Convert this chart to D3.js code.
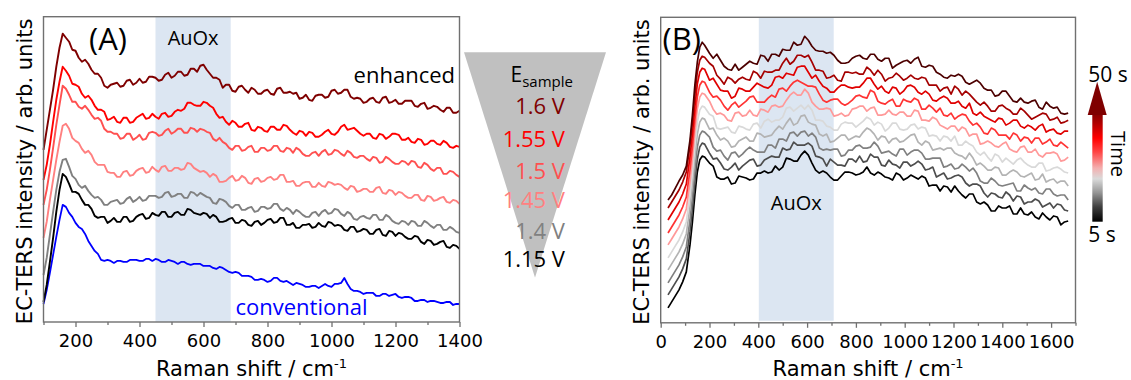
<!DOCTYPE html>
<html>
<head>
<meta charset="utf-8">
<script src="https://cdn.jsdelivr.net/npm/d3@7"></script>
<style>
  html, body { margin: 0; padding: 0; background: #ffffff; }
  svg { display: block; }
</style>
</head>
<body>
<svg id="fig" width="1131" height="380"></svg>
<script>
// ---------------- Panel A: potential-dependent spectra ----------------
const shiftA = [100,110,120,130,140,150,160,170,180,190,200,210,220,230,240,250,260,270,280,290,300,310,320,330,340,350,360,370,380,390,400,410,420,430,440,450,460,470,480,490,500,510,520,530,540,550,560,570,580,590,600,610,620,630,640,650,660,670,680,690,700,710,720,730,740,750,760,770,780,790,800,810,820,830,840,850,860,870,880,890,900,910,920,930,940,950,960,970,980,990,1000,1010,1020,1030,1040,1050,1060,1070,1080,1090,1100,1110,1120,1130,1140,1150,1160,1170,1180,1190,1200,1210,1220,1230,1240,1250,1260,1270,1280,1290,1300,1310,1320,1330,1340,1350,1360,1370,1380,1390,1400];

const potentials = ["1.6 V", "1.55 V", "1.5 V", "1.45 V", "1.4 V", "1.15 V"];
const potentialColors = ["#7f0000", "#ff0000", "#ff5050", "#ff8080", "#808080", "#000000"];

const int160 = [172,192,212,232,255,274,288,284,280,272,
  271,264,260,262,258,252,248,248,244,236,234,237,238,239,235,236,241,242,237,239,243,239,240,245,245,244,241,242,247,249,244,246,250,250,246,247,253,253,250,256,257,252,248,244,244,242,234,237,237,231,230,235,236,232,229,234,232,228,228,231,232,228,227,233,234,229,229,230,228,229,223,224,227,222,221,226,227,227,224,225,231,232,228,229,232,232,225,223,224,223,219,220,223,224,220,219,224,225,219,220,222,218,218,221,221,221,216,215,218,219,213,214,216,215,212,210,214,214,209,209,211];
const int155 = [142,157,177,200,222,240,255,251,246,238,
  237,235,228,224,226,222,216,212,212,210,202,203,205,200,199,204,204,199,200,204,206,208,203,204,208,205,203,208,209,205,206,210,212,211,213,219,219,217,216,216,220,219,216,214,208,204,205,200,197,201,199,195,195,198,199,192,191,195,194,191,190,195,195,192,192,197,196,192,189,187,191,190,186,190,189,185,185,187,190,192,188,187,190,195,197,192,193,194,191,188,186,188,188,184,183,188,187,183,185,188,188,187,182,182,184,180,179,183,182,177,178,181,181,178,177,181,179,175,174,176,175];
const int150 = [117,132,152,174,197,217,236,233,227,220,
  220,215,213,216,212,207,203,204,201,193,190,190,188,188,183,184,188,188,182,184,187,182,183,189,190,189,186,187,191,193,188,190,193,193,189,189,194,193,190,193,192,190,189,183,181,184,180,178,174,172,176,176,171,172,175,176,170,170,174,174,171,172,176,176,171,170,174,173,169,174,172,168,166,166,169,170,166,170,172,167,168,172,171,168,166,171,169,165,164,166,166,163,161,165,164,159,160,165,163,160,158,158,161,160,157,161,160,155,154,159,157,153,151,154,154,148,148,151,150,147,145];
const int145 = [84,100,122,142,162,180,196,198,193,184,
  181,179,173,169,171,167,160,157,157,157,150,149,149,145,145,150,151,146,147,151,153,154,149,150,155,152,150,155,156,151,151,154,154,152,153,159,158,154,152,150,151,149,145,148,146,140,140,141,144,146,141,142,146,144,139,138,143,144,140,141,144,145,142,143,147,147,140,140,141,136,136,139,140,140,135,135,139,136,135,140,139,137,138,137,134,132,136,135,130,131,133,133,130,130,134,135,129,128,132,131,127,130,129,126,124,124,127,127,122,121,126,125,121,122,124,125,120,119,122,121,118];
const int140 = [47,64,87,110,132,150,162,163,155,146,
  143,137,134,136,131,127,124,125,122,117,117,120,121,122,118,119,123,125,120,122,125,121,122,126,126,126,124,125,129,130,125,126,128,128,124,124,130,129,126,129,127,125,124,119,118,123,122,120,116,114,117,117,112,112,114,115,110,111,115,115,113,114,118,118,113,111,114,112,108,112,110,107,105,105,109,110,106,110,112,108,109,113,112,108,106,110,108,103,102,105,106,104,103,107,107,102,102,107,105,101,99,98,101,100,97,101,100,96,96,101,99,96,94,97,97,92,92,95,93,90,89];
const int115 = [20,37,60,84,110,132,148,145,138,130,
  130,128,122,117,117,113,106,104,105,105,99,101,104,100,100,105,105,100,101,105,107,108,103,104,109,107,106,110,110,105,105,109,110,107,107,113,112,109,108,107,109,108,104,107,105,100,100,101,103,104,99,99,102,101,97,96,100,101,97,99,102,103,99,100,104,104,97,97,99,94,94,97,97,98,94,95,99,96,95,100,99,96,97,96,92,91,95,95,90,91,93,92,88,88,92,93,87,86,91,90,86,89,88,85,83,83,86,85,80,78,82,81,77,78,80,81,75,74,77,76,73];
const intConventional = [18,32,49,67,85,102,117,115,109,105,
  99,95,93,88,81,76,71,68,62,61,62,61,59,61,61,60,60,62,62,62,61,61,63,63,61,63,62,60,60,62,61,60,58,60,60,58,57,58,58,58,56,56,56,54,53,55,54,52,50,49,50,49,46,46,46,45,42,42,43,42,40,41,44,44,41,40,41,39,37,39,38,37,35,35,36,36,34,36,38,36,35,38,38,39,44,38,33,31,31,30,28,29,29,29,26,26,28,28,26,27,28,25,24,25,25,24,21,21,22,22,20,21,21,20,19,19,20,20,17,18,18];

const seriesA = [int160, int155, int150, int145, int140, int115];

const ticksA = [200,400,600,800,1000,1200,1400];
const minorTicksA = [100,300,500,700,900,1100,1300];
const bandA = [450, 685];

// ---------------- Panel B: time-dependent spectra ----------------
const shiftB = [30,45,60,75,90,105,120,130,140,150,160,170,180,
  200,215,230,245,260,275,290,305,320,335,350,365,380,395,410,425,440,455,470,485,500,515,530,545,560,575,590,605,620,635,650,665,680,695,710,725,740,755,770,785,800,815,830,845,860,875,890,905,920,935,950,965,980,995,1010,1025,1040,1055,1070,1085,1100,1115,1130,1145,1160,1175,1190,1205,1220,1235,1250,1265,1280,1295,1310,1325,1340,1355,1370,1385,1400,1415,1430,1445,1460,1475,1490,1505,1520,1535,1550,1565,1580,1595,1610,1625,1640,1655,1670];

const times = [5,10,15,20,25,30,35,40,45,50];
const timeColors = ["#000000","#4d4d4d","#808080","#b3b3b3","#d9d9d9","#ff9999","#ff3333","#e00000","#a50000","#4d0000"];

const t05 = [15,21,27,33,41,51,78,101,128,151,163,167,166,
  160,157,146,144,144,146,139,140,147,146,145,143,144,150,150,152,150,151,157,153,156,165,164,162,162,168,172,168,160,153,150,152,150,146,143,143,147,151,151,150,148,149,151,156,150,148,151,149,146,145,143,150,148,143,145,148,146,144,147,145,137,138,138,132,137,136,131,137,132,128,125,129,129,121,119,121,118,112,112,117,115,115,117,109,109,115,109,108,111,106,104,110,106,103,107,106,98,101,102];
const t10 = [28,34,40,46,54,64,91,114,141,164,176,180,179,
  170,164,165,160,154,153,156,160,153,157,160,163,164,157,158,163,165,167,166,166,175,173,174,181,178,178,178,180,177,167,166,164,157,164,161,158,158,157,164,164,161,167,161,162,169,166,166,158,157,163,159,158,155,161,161,157,159,162,159,153,154,156,146,148,150,144,145,147,148,146,140,137,139,139,137,130,126,130,129,126,125,131,128,122,127,126,119,121,121,124,122,116,118,120,115,119,118,113,112];
const t15 = [40,46,52,58,66,76,103,126,153,176,188,192,191,
  186,176,172,173,167,163,170,171,166,169,173,176,173,171,171,171,178,178,175,184,184,182,190,191,187,191,192,187,190,186,175,173,174,173,174,174,167,168,173,173,177,178,175,175,176,181,177,170,171,172,169,167,174,174,168,171,173,173,170,164,164,165,165,165,156,157,159,154,155,159,156,152,155,150,142,140,140,145,142,138,137,138,139,140,132,132,138,135,133,135,130,129,134,134,129,127,128,128,123];
const t20 = [53,59,65,71,79,89,116,139,166,189,201,205,204,
  194,195,188,183,185,182,176,177,182,184,186,182,182,190,189,186,187,188,193,197,194,200,205,198,200,207,208,201,199,198,189,187,189,181,182,185,188,188,183,185,187,186,191,195,193,189,183,187,186,180,184,185,181,182,185,188,189,181,178,182,180,173,174,175,173,175,175,170,168,167,164,170,165,158,160,157,153,153,156,155,148,148,151,153,151,147,146,148,150,143,144,149,141,143,144,140,142,142,137];
const t25 = [65,71,77,83,91,101,128,151,178,201,213,217,216,
  209,207,195,194,195,196,191,190,197,196,194,193,199,200,195,202,204,201,203,203,206,215,216,212,215,218,214,218,213,203,203,202,197,196,193,193,199,201,200,200,196,199,202,206,204,198,201,199,192,195,200,200,194,193,194,198,199,194,196,195,187,188,187,182,187,186,182,187,178,178,182,179,177,171,168,171,166,162,169,167,161,165,162,159,163,165,161,158,156,156,160,160,152,153,155,156,154,151,150];
const t30 = [78,84,90,96,104,114,141,164,191,214,226,230,229,
  222,214,209,210,208,203,202,210,211,207,208,213,208,207,214,213,211,217,218,216,217,223,228,231,228,228,234,230,221,217,214,214,215,214,207,208,210,207,208,214,215,217,217,212,215,216,208,208,209,213,209,208,211,211,207,207,213,212,203,203,202,206,204,198,196,194,197,197,192,196,194,187,189,189,179,180,182,180,177,176,179,181,174,172,171,176,177,171,171,174,168,166,170,170,171,169,162,163,166];
const t35 = [90,96,102,108,116,126,153,176,203,226,238,242,241,
  231,226,227,223,217,213,218,221,216,219,222,226,227,221,221,221,225,228,226,234,235,232,237,241,243,241,239,237,237,236,229,223,221,223,224,224,220,218,220,223,227,228,226,225,233,231,222,220,219,222,224,217,217,224,222,221,225,223,214,214,218,215,211,215,208,207,210,204,207,209,208,202,198,200,196,190,189,195,193,188,188,188,184,190,188,182,186,185,180,185,185,179,181,184,178,177,181,178,175];
const t40 = [103,109,115,121,129,139,166,189,216,239,251,255,254,
  243,245,239,233,232,232,225,227,235,234,232,232,236,240,238,236,235,238,246,247,245,250,249,248,256,257,257,251,245,248,242,237,235,231,231,235,238,238,236,235,236,236,240,245,245,239,234,237,232,230,236,235,229,232,237,238,236,231,229,232,229,223,222,225,227,225,220,220,222,217,215,220,210,208,211,207,205,203,201,205,204,198,200,203,203,197,195,198,196,193,197,199,191,193,194,190,189,192,192];
const t45 = [115,121,127,133,141,151,178,201,228,251,263,267,266,
  260,257,248,244,239,246,244,240,244,246,244,243,252,250,245,252,251,251,253,253,260,265,259,262,268,268,266,268,261,253,253,252,245,246,248,243,242,251,251,250,251,249,249,256,253,248,253,249,242,245,246,250,247,243,245,248,245,244,246,245,238,238,238,232,235,236,229,237,234,228,232,229,225,221,218,221,217,212,212,217,218,215,213,209,209,215,212,208,204,206,208,210,209,203,204,206,200,201,203];
const t50 = [123,128,135,142,148,157,183,208,238,261,276,281,278,
  270,265,269,263,257,254,253,259,253,256,259,262,260,259,268,267,262,269,269,267,274,273,273,281,278,279,287,283,277,273,272,272,270,271,268,263,260,260,261,265,267,268,265,264,269,269,264,262,265,265,255,258,260,262,263,260,264,266,257,256,258,257,251,249,246,245,248,247,249,247,241,239,241,243,240,235,233,233,227,228,232,232,227,222,221,225,221,220,222,223,216,214,221,217,215,216,210,209,210];

const seriesB = [t05, t10, t15, t20, t25, t30, t35, t40, t45, t50];

const ticksB = [0,200,400,600,800,1000,1200,1400,1600];
const minorTicksB = [100,300,500,700,900,1100,1300,1500,1700];
const bandB = [402, 709];

// ---------------- Drawing ----------------
const FONT_AX = "'DejaVu Sans', 'Liberation Sans', sans-serif";
const FONT_NOTE = "'Open Sans', 'Noto Sans', sans-serif";
const FRAME = "#707070";
const BAND = "#dce6f2";

const svg = d3.select("#fig");

const boxA = {x0: 43.5, x1: 459.5, y0: 16.7, y1: 322};
const boxB = {x0: 660.7, x1: 1075.5, y0: 17.3, y1: 322.8};

const xA = d3.scaleLinear().domain([100, 1400]).range([boxA.x0, boxA.x1]);
const yA = d3.scaleLinear().domain([0, 305]).range([boxA.y1, boxA.y0]);
const xB = d3.scaleLinear().domain([0, 1700]).range([boxB.x0, boxB.x1]);
const yB = d3.scaleLinear().domain([0, 306]).range([boxB.y1, boxB.y0]);

function drawAxes(box, x, major, minor) {
  const gMinor = svg.append("g")
    .attr("transform", `translate(0,${box.y1})`)
    .call(d3.axisBottom(x).tickValues(minor).tickSize(3).tickFormat(""));
  const gMajor = svg.append("g")
    .attr("transform", `translate(0,${box.y1})`)
    .call(d3.axisBottom(x).tickValues(major).tickSize(5).tickPadding(7).tickFormat(d3.format("d")));
  [gMinor, gMajor].forEach(g => {
    g.select(".domain").remove();
    g.selectAll(".tick line").attr("stroke", FRAME).attr("stroke-width", 1.3);
    g.selectAll(".tick text")
      .attr("fill", "#000")
      .style("font-family", FONT_AX)
      .style("font-size", "18px");
  });
  svg.append("rect")
    .attr("x", box.x0).attr("y", box.y0)
    .attr("width", box.x1 - box.x0).attr("height", box.y1 - box.y0)
    .attr("fill", "none").attr("stroke", FRAME).attr("stroke-width", 1.4);
}

function axisTitles(box) {
  const cx = (box.x0 + box.x1) / 2;
  const t = svg.append("text")
    .attr("x", cx).attr("y", 376)
    .attr("text-anchor", "middle")
    .style("font-family", FONT_AX).style("font-size", "21px").attr("fill", "#000");
  t.append("tspan").text("Raman shift / cm");
  t.append("tspan").text("-1").attr("dy", -8).style("font-size", "13px");

  svg.append("text")
    .attr("transform", `translate(${box.x0 - 12},${(box.y0 + box.y1) / 2 + 2}) rotate(-90)`)
    .attr("text-anchor", "middle")
    .style("font-family", FONT_AX).style("font-size", "21px").attr("fill", "#000")
    .text("EC-TERS intensity / arb. units");
}

// --- Panel A ---
svg.append("rect")
  .attr("x", xA(bandA[0])).attr("y", boxA.y0)
  .attr("width", xA(bandA[1]) - xA(bandA[0])).attr("height", boxA.y1 - boxA.y0)
  .attr("fill", BAND);

const lineA = d3.line().x(d => xA(d[0])).y(d => yA(d[1]));

svg.append("path")
  .attr("d", lineA(shiftA.map((s, i) => [s, intConventional[i]])))
  .attr("fill", "none").attr("stroke", "#0000ff").attr("stroke-width", 1.8)
  .attr("stroke-linejoin", "round");

seriesA.slice().reverse().forEach((ser, j) => {
  const k = seriesA.length - 1 - j;
  svg.append("path")
    .attr("d", lineA(shiftA.map((s, i) => [s, ser[i]])))
    .attr("fill", "none").attr("stroke", potentialColors[k]).attr("stroke-width", 1.9)
    .attr("stroke-linejoin", "round");
});

drawAxes(boxA, xA, ticksA, minorTicksA);
axisTitles(boxA);

svg.append("text").attr("x", 89).attr("y", 49.5)
  .style("font-family", FONT_NOTE).style("font-size", "31px").attr("fill", "#000").text("(A)");
svg.append("text").attr("x", xA((bandA[0] + bandA[1]) / 2)).attr("y", 45)
  .attr("text-anchor", "middle")
  .style("font-family", FONT_NOTE).style("font-size", "20px").attr("fill", "#000").text("AuOx");
svg.append("text").attr("x", 455).attr("y", 82.5)
  .attr("text-anchor", "end")
  .style("font-family", FONT_NOTE).style("font-size", "22px").attr("fill", "#000").text("enhanced");
svg.append("text").attr("x", 301.5).attr("y", 315)
  .attr("text-anchor", "middle")
  .style("font-family", FONT_NOTE).style("font-size", "22px").attr("fill", "#0000ff").text("conventional");

// potential legend on a grey funnel
svg.append("polygon")
  .attr("points", [[464, 52.3], [606, 52.3], [535, 277.5]].map(p => p.join(",")).join(" "))
  .attr("fill", "#c0c0c0");
const eLab = svg.append("text").attr("x", 510.5).attr("y", 82.3)
  .style("font-family", FONT_NOTE).style("font-size", "21px").attr("fill", "#000");
eLab.append("tspan").text("E");
eLab.append("tspan").text("sample").attr("dy", 5).style("font-size", "15px");

const legendY = [105, 138, 170, 199, 230, 258];
potentials.forEach((p, i) => {
  svg.append("text")
    .attr("x", 565).attr("y", legendY[i])
    .attr("text-anchor", "end").attr("dominant-baseline", "central")
    .style("font-family", FONT_NOTE).style("font-size", "22px")
    .attr("fill", potentialColors[i]).text(p);
});

// --- Panel B ---
svg.append("rect")
  .attr("x", xB(bandB[0])).attr("y", boxB.y0)
  .attr("width", xB(bandB[1]) - xB(bandB[0])).attr("height", boxB.y1 - boxB.y0 - 2)
  .attr("fill", BAND);

const lineB = d3.line().x(d => xB(d[0])).y(d => yB(d[1]));
seriesB.forEach((ser, k) => {
  svg.append("path")
    .attr("d", lineB(shiftB.map((s, i) => [s, ser[i]])))
    .attr("fill", "none").attr("stroke", timeColors[k]).attr("stroke-width", 1.7)
    .attr("stroke-linejoin", "round");
});

drawAxes(boxB, xB, ticksB, minorTicksB);
axisTitles(boxB);

svg.append("text").attr("x", 662.5).attr("y", 49.5)
  .style("font-family", FONT_NOTE).style("font-size", "31px").attr("fill", "#000").text("(B)");
svg.append("text").attr("x", xB((bandB[0] + bandB[1]) / 2)).attr("y", 210)
  .attr("text-anchor", "middle")
  .style("font-family", FONT_NOTE).style("font-size", "20px").attr("fill", "#000").text("AuOx");

// time colour bar with arrow head
const defs = svg.append("defs");
const grad = defs.append("linearGradient").attr("id", "timeGrad")
  .attr("x1", 0).attr("y1", 1).attr("x2", 0).attr("y2", 0);
const gradStops = [
  [0, "#000000"], [0.14, "#404040"], [0.27, "#959595"], [0.4, "#dadada"],
  [0.5, "#f3b0b0"], [0.65, "#ff4545"], [0.78, "#ff0000"], [0.92, "#b00000"], [1, "#8a0000"]
];
gradStops.forEach(([o, c]) => grad.append("stop").attr("offset", o).attr("stop-color", c));

svg.append("rect").attr("x", 1092.3).attr("y", 114.5)
  .attr("width", 10.4).attr("height", 107.2).attr("fill", "url(#timeGrad)");
svg.append("polygon")
  .attr("points", "1087.7,115 1106.7,115 1097.2,81.7")
  .attr("fill", "#7f0000");

svg.append("text").attr("x", 1108).attr("y", 73.5)
  .attr("text-anchor", "middle").attr("dominant-baseline", "central")
  .style("font-family", FONT_NOTE).style("font-size", "21px").attr("fill", "#000")
  .text(times[times.length - 1] + " s");
svg.append("text").attr("x", 1102).attr("y", 233.5)
  .attr("text-anchor", "middle").attr("dominant-baseline", "central")
  .style("font-family", FONT_NOTE).style("font-size", "21px").attr("fill", "#000")
  .text(times[0] + " s");
svg.append("text")
  .attr("transform", "translate(1111,154) rotate(90)")
  .attr("text-anchor", "middle")
  .style("font-family", FONT_NOTE).style("font-size", "20px").attr("fill", "#000")
  .text("Time");
</script>
</body>
</html>
